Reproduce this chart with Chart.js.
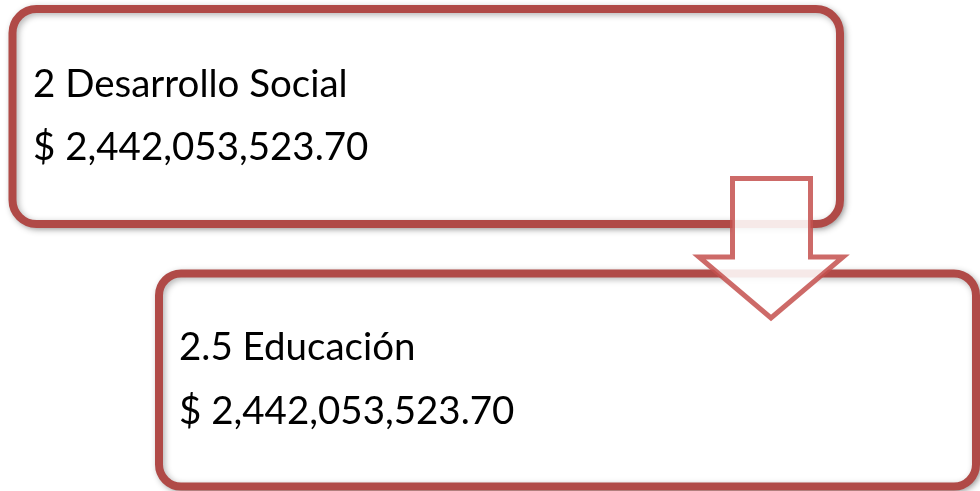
<!DOCTYPE html>
<html>
<head>
<meta charset="utf-8">
<script src="https://cdn.jsdelivr.net/npm/chart.js@4/dist/chart.umd.min.js"></script>
<style>
html,body{margin:0;padding:0;background:#fff;}
#wrap{width:980px;height:491px;}
</style>
</head>
<body>
<div id="wrap"><canvas id="c" width="980" height="491"></canvas></div>
<script>
// Data
const levels = ['2 Desarrollo Social', '2.5 Educación'];
const amounts = [2442053523.70, 2442053523.70];

// Layout (in canvas-space units, mapped through the chart's scales)
const boxes = [
  {x0: 12.5, y0: 9, x1: 840, y1: 224, r: 24, tx: 33, ty1: 97, ty2: 160},
  {x0: 159, y0: 273.5, x1: 976, y1: 486.5, r: 22, tx: 179, ty1: 360, ty2: 424}
];
const arrow = {sl: 732.5, sr: 810.5, top: 178.5, shoulder: 257, hl: 699, hr: 843, tip: 318};

function fmt(v){
  return '$ ' + v.toLocaleString('en-US', {minimumFractionDigits: 2, maximumFractionDigits: 2});
}

const diagramPlugin = {
  id: 'diagram',
  afterDatasetsDraw(chart){
    const ctx = chart.ctx;
    const xs = chart.scales.x, ys = chart.scales.y;
    const X = v => xs.getPixelForValue(v), Y = v => ys.getPixelForValue(v);
    const pts = chart.data.datasets[0].data;
    boxes.forEach((b, i) => {
      const x0 = X(b.x0), y0 = Y(b.y0), x1 = X(b.x1), y1 = Y(b.y1);
      ctx.save();
      ctx.beginPath();
      ctx.roundRect(x0, y0, x1 - x0, y1 - y0, b.r);
      ctx.shadowColor = 'rgba(0,0,0,0.35)';
      ctx.shadowBlur = 6;
      ctx.shadowOffsetX = 2;
      ctx.shadowOffsetY = 2;
      ctx.fillStyle = '#ffffff';
      ctx.fill();
      ctx.shadowColor = 'rgba(0,0,0,0.3)';
      ctx.lineWidth = 8;
      ctx.strokeStyle = '#b04a47';
      ctx.stroke();
      ctx.restore();
      ctx.save();
      ctx.fillStyle = '#000';
      ctx.font = '38.5px Lato, "Open Sans", sans-serif';
      ctx.textBaseline = 'alphabetic';
      ctx.fillText(pts[i].label, X(b.tx), Y(b.ty1));
      ctx.fillText(fmt(pts[i].amount), X(b.tx), Y(b.ty2));
      ctx.restore();
    });
    // arrow
    const a = arrow;
    ctx.save();
    ctx.beginPath();
    ctx.moveTo(X(a.sl), Y(a.top));
    ctx.lineTo(X(a.sr), Y(a.top));
    ctx.lineTo(X(a.sr), Y(a.shoulder));
    ctx.lineTo(X(a.hr), Y(a.shoulder));
    ctx.lineTo(X((a.hl + a.hr) / 2), Y(a.tip));
    ctx.lineTo(X(a.hl), Y(a.shoulder));
    ctx.lineTo(X(a.sl), Y(a.shoulder));
    ctx.closePath();
    ctx.fillStyle = 'rgba(255,255,255,0.88)';
    ctx.fill();
    ctx.lineWidth = 5;
    ctx.lineJoin = 'miter';
    ctx.strokeStyle = 'rgba(196,80,78,0.85)';
    ctx.stroke();
    ctx.restore();
  }
};

new Chart(document.getElementById('c'), {
  type: 'scatter',
  data: {
    datasets: [{
      data: levels.map((l, i) => ({x: (boxes[i].x0 + boxes[i].x1) / 2, y: (boxes[i].y0 + boxes[i].y1) / 2, label: l, amount: amounts[i]})),
      pointRadius: 0,
      pointHoverRadius: 0
    }]
  },
  options: {
    responsive: false,
    animation: false,
    devicePixelRatio: 1,
    layout: {padding: 0},
    plugins: {legend: {display: false}, tooltip: {enabled: false}},
    scales: {
      x: {type: 'linear', min: 0, max: 980, display: false},
      y: {type: 'linear', min: 0, max: 491, reverse: true, display: false}
    }
  },
  plugins: [diagramPlugin]
});
</script>
</body>
</html>
